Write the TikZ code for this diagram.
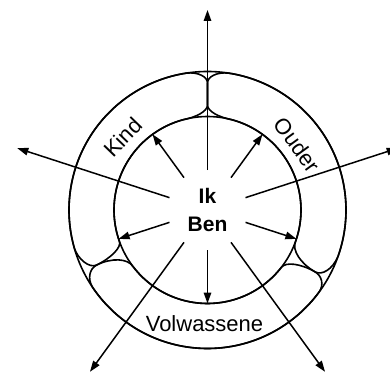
\documentclass[tikz,border=0pt]{standalone}
\usepackage{fontspec}
\setmainfont{Liberation Sans}
\usetikzlibrary{arrows.meta}
\begin{document}
\begin{tikzpicture}[x=1pt,y=1pt,
  ln/.style={line width=1.6pt},
  arr/.style={line width=1.5pt,-{Triangle[length=11pt,width=7.5pt]}},
  lbl/.style={font=\fontsize{22}{26}\selectfont, inner sep=0pt}]
\useasboundingbox (-207.5,-162) rectangle (182.5,210);
\def\R{138.5pt}\def\r{93.5pt}
\node[circle,draw,ln,minimum size=277pt,inner sep=0pt,outer sep=0pt] (outer) at (0,0) {};
\node[circle,draw,ln,minimum size=187pt,inner sep=0pt,outer sep=0pt] (inner) at (0,0) {};
% Kind lobe
\draw[ln] (98.7:\R) arc[start angle=98.7,end angle=196.1,radius=\R]
  .. controls (200.7:\R) and (206.4:131.9pt) .. (206.4:123.7pt)
  .. controls (206.4:107pt) and (203.35:\r) .. (199.6:\r)
  arc[start angle=199.6,end angle=105.4,radius=\r]
  .. controls (96.9:\r) and (90:98.65pt) .. (90:105pt)
  -- (90:127pt)
  .. controls (90:133.3pt) and (93.9:\R) .. (98.7:\R) -- cycle;
% Ouder lobe
\draw[ln] (81.3:\R) arc[start angle=81.3,end angle=-19.6,radius=\R]
  .. controls (-25.3:\R) and (-29.9:132pt) .. (-29.9:124pt)
  .. controls (-29.9:107.2pt) and (-25.4:\r) .. (-19.9:\r)
  arc[start angle=-19.9,end angle=74.6,radius=\r]
  .. controls (83.1:\r) and (90:98.65pt) .. (90:105pt)
  -- (90:127pt)
  .. controls (90:133.3pt) and (86.1:\R) .. (81.3:\R) -- cycle;
% Volwassene lobe
\draw[ln] (213.9:\R) arc[start angle=213.9,end angle=323.8,radius=\R]
  .. controls (327.3:\R) and (330.1:132pt) .. (330.1:124pt)
  .. controls (330.1:107.2pt) and (326.5:\r) .. (322:\r)
  arc[start angle=322,end angle=217,radius=\r]
  .. controls (211.15:\r) and (206.4:107pt) .. (206.4:123.7pt)
  .. controls (206.4:131.9pt) and (209.8:\R) .. (213.9:\R) -- cycle;
% centre
\node[circle,minimum size=80pt,inner sep=0pt,outer sep=0pt,align=center,
  font=\bfseries\fontsize{21}{28}\selectfont] (me) at (0,0) {Ik\\Ben};
\foreach \t in {90,162,234,306,18}{
  \coordinate (e\t) at (\t:200pt);
  \draw[arr] (me.\t) -- (e\t);
}
\foreach \t in {54,126,198,270,342}{
  \draw[arr] (me.\t) -- (inner.\t);
}
\node[lbl,rotate=46] (kind) at (-84.8,72.7) {Kind};
\node[lbl,rotate=-54] (ouder) at (89.8,65) {Ouder};
\node[lbl] (volw) at (-3,-114) {Volwassene};
\end{tikzpicture}
\end{document}
